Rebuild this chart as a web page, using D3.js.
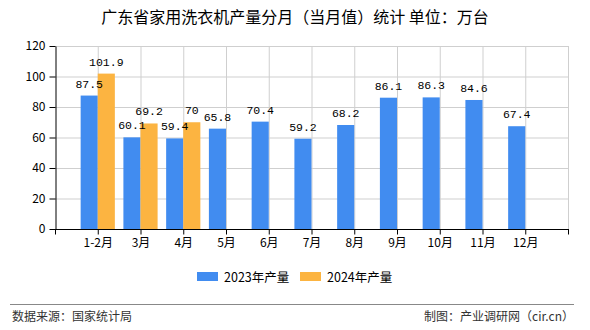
<!DOCTYPE html>
<html><head><meta charset="utf-8">
<script src="https://cdn.jsdelivr.net/npm/d3@7"></script>
<style>body{margin:0;background:#fff}svg{display:block}text{font-family:"Noto Sans CJK SC","Liberation Sans",sans-serif}</style>
</head><body><svg id="c" width="590" height="330"></svg>
<script>
const categories = ["1-2月","3月","4月","5月","6月","7月","8月","9月","10月","11月","12月"];
const series2023 = [87.5,60.1,59.4,65.8,70.4,59.2,68.2,86.1,86.3,84.6,67.4];
const series2024 = [101.9,69.2,70,null,null,null,null,null,null,null,null];
const yTicks = [0,20,40,60,80,100,120];
const seriesNames = ["2023年产量","2024年产量"];
const colors = ["#418CF0","#FCB441"];
const title = "广东省家用洗衣机产量分月（当月值）统计  单位：万台";

const svg = d3.select("#c");
const L=55, R=568, T=46, B=229;
const x = d3.scalePoint().domain(categories).range([L,R]).padding(1);
const y = d3.scaleLinear().domain([0,120]).range([B,T]);
const bw = x.step()*0.4;

svg.append("text").attr("x",295).attr("y",23).attr("text-anchor","middle")
  .attr("font-size",16).attr("fill","#000").text(title);

// grid
const g = svg.append("g");
g.selectAll(".hg").data(yTicks.filter(d=>d>0)).join("line")
  .attr("x1",L).attr("x2",R).attr("y1",d=>y(d)+0.5).attr("y2",d=>y(d)+0.5)
  .attr("stroke","#cfcfcf");
g.selectAll(".vg").data(categories).join("line")
  .attr("x1",d=>x(d)+0.5).attr("x2",d=>x(d)+0.5).attr("y1",T).attr("y2",B)
  .attr("stroke","#cfcfcf");
g.append("line").attr("x1",R+0.5).attr("x2",R+0.5).attr("y1",T).attr("y2",B).attr("stroke","#cfcfcf");

// bars
const d23 = categories.map((c,i)=>({c,v:series2023[i]})).filter(d=>d.v!=null);
const d24 = categories.map((c,i)=>({c,v:series2024[i]})).filter(d=>d.v!=null);
svg.append("g").selectAll("rect").data(d23).join("rect")
  .attr("x",d=>x(d.c)-bw).attr("width",bw).attr("y",d=>y(d.v)).attr("height",d=>B-y(d.v)).attr("fill",colors[0]);
svg.append("g").selectAll("rect").data(d24).join("rect")
  .attr("x",d=>x(d.c)).attr("width",bw).attr("y",d=>y(d.v)).attr("height",d=>B-y(d.v)).attr("fill",colors[1]);

// labels
const lab = svg.append("g").attr("font-size",12).attr("text-anchor","middle").attr("fill","#000");
lab.selectAll(".a").data(d23).join("text").attr("x",d=>x(d.c)-bw/2).attr("y",d=>y(d.v)-8)
  .style("font-family","'Liberation Mono',monospace").attr("font-size",11.5).text(d=>d.v);
lab.selectAll(".b").data(d24).join("text").attr("x",d=>x(d.c)+bw/2).attr("y",d=>y(d.v)-8)
  .style("font-family","'Liberation Mono',monospace").attr("font-size",11.5).text(d=>d.v);

// axes
const ya = svg.append("g").attr("transform",`translate(${L+0.5},0)`)
  .call(d3.axisLeft(y).tickValues(yTicks).tickSize(6).tickSizeOuter(0).tickPadding(4));
const xa = svg.append("g").attr("transform",`translate(0,${B+0.5})`)
  .call(d3.axisBottom(x).tickSize(5).tickSizeOuter(0).tickPadding(4));
xa.append("line").attr("x1",L).attr("x2",R+1).attr("stroke","#000");
[L,R].forEach(v=>xa.append("line").attr("x1",v+0.5).attr("x2",v+0.5).attr("y1",0).attr("y2",5).attr("stroke","#000"));
[ya,xa].forEach(a=>{a.selectAll("text").attr("font-size",12).attr("fill","#000")
  .style("font-family","'Noto Sans CJK SC',sans-serif");a.selectAll("line,path").attr("stroke","#000");});
xa.select(".domain").remove();

// legend
const lg = svg.append("g");
[[197,0],[300,1]].forEach(([lx,i])=>{
  lg.append("rect").attr("x",lx).attr("y",272).attr("width",21).attr("height",9).attr("fill",colors[i]);
  lg.append("text").attr("x",lx+27).attr("y",281.5).attr("font-size",12.5).attr("fill","#000").text(seriesNames[i]);
});

// footer
svg.append("line").attr("x1",10).attr("x2",574).attr("y1",304.5).attr("y2",304.5).attr("stroke","#888");
svg.append("text").attr("x",12).attr("y",321).attr("font-size",12).attr("fill","#333").text("数据来源：国家统计局");
svg.append("text").attr("x",574).attr("y",321).attr("text-anchor","end").attr("font-size",12).attr("fill","#333").text("制图：产业调研网（cir.cn）");
</script></body></html>
